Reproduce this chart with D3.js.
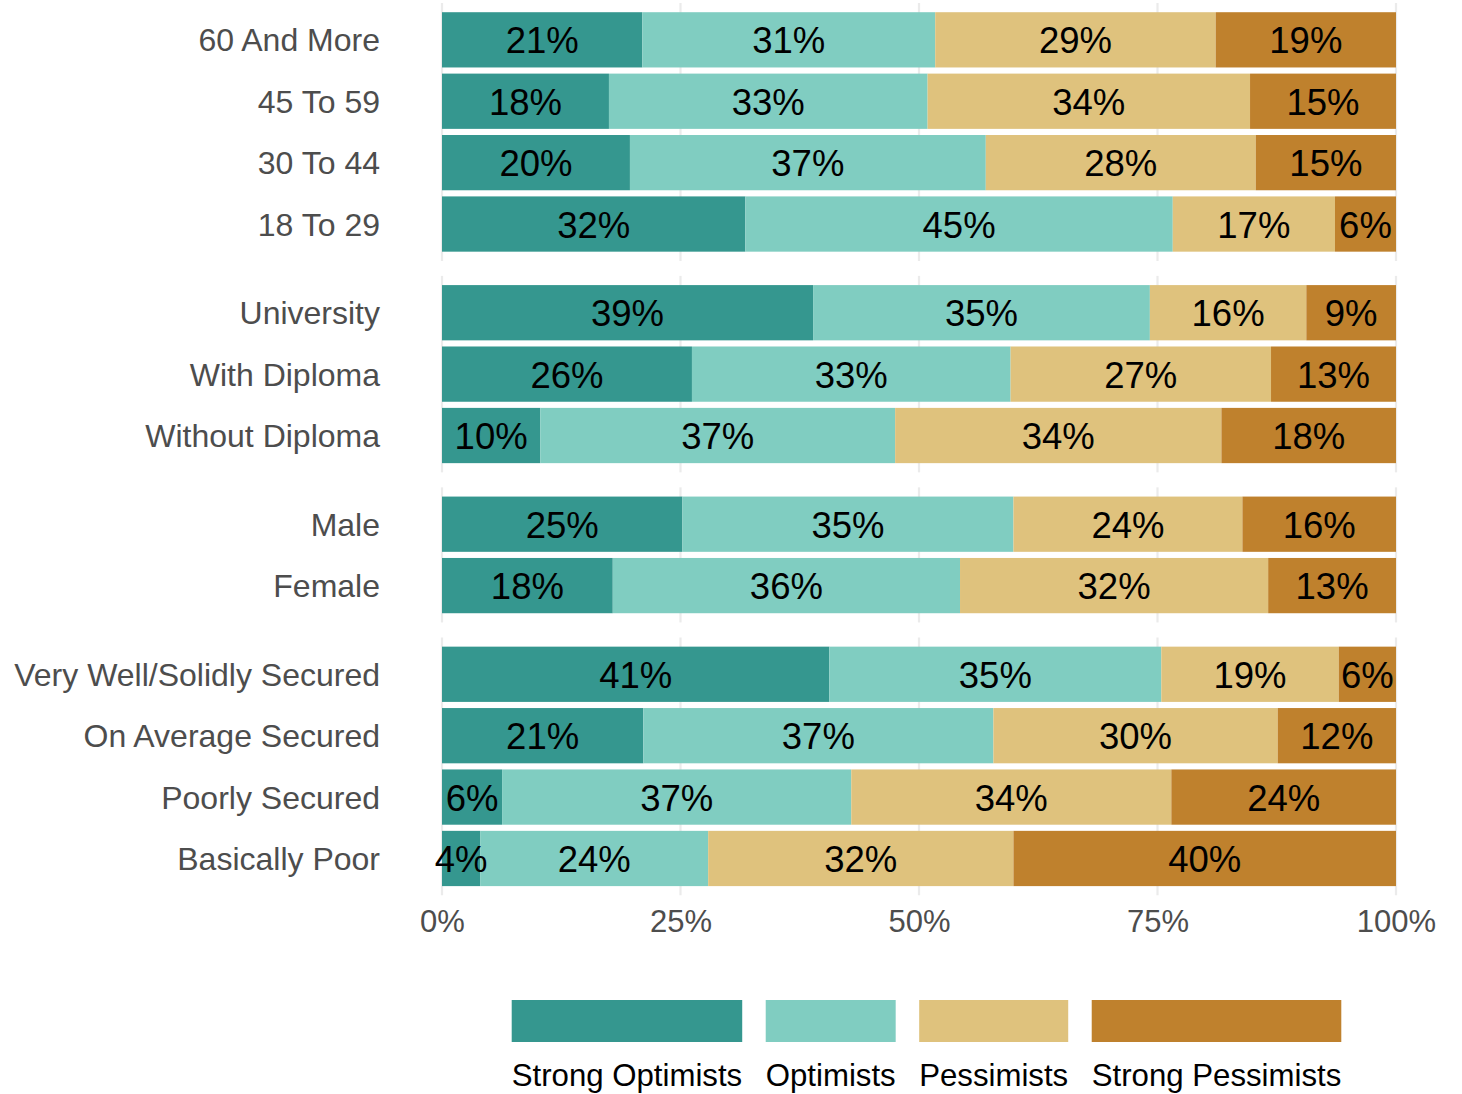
<!DOCTYPE html>
<html><head><meta charset="utf-8">
<script src="https://cdn.jsdelivr.net/npm/d3@7"></script>
<style>
body{margin:0;background:#fff}
svg{display:block}
text{font-family:"Liberation Sans",Arial,Helvetica,sans-serif}
</style>
</head><body><svg id="c" width="1462" height="1094"></svg>
<script>
// ---- data ----
const ageGroups = ["60 And More", "45 To 59", "30 To 44", "18 To 29"];
const education = ["University", "With Diploma", "Without Diploma"];
const gender = ["Male", "Female"];
const income = ["Very Well/Solidly Secured", "On Average Secured", "Poorly Secured", "Basically Poor"];

const seriesNames = ["Strong Optimists", "Optimists", "Pessimists", "Strong Pessimists"];
const strongOptimists  = [21.0, 17.5, 19.7, 31.8, 38.9, 26.2, 10.3, 25.2, 17.9, 40.6, 21.1, 6.3, 4.0];
const optimists        = [30.7, 33.4, 37.3, 44.8, 35.3, 33.4, 37.2, 34.7, 36.4, 34.8, 36.7, 36.6, 23.9];
const pessimists       = [29.4, 33.8, 28.3, 17.0, 16.4, 27.3, 34.2, 24.0, 32.3, 18.6, 29.8, 33.55, 32.0];
const strongPessimists = [18.9, 15.3, 14.7, 6.4, 9.4, 13.1, 18.3, 16.1, 13.4, 6.0, 12.4, 23.55, 40.1];
const tickValues = [0, 25, 50, 75, 100];
const tickLabels = ["0%", "25%", "50%", "75%", "100%"];
const colors = ["#35978f", "#80cdc1", "#dfc27d", "#bf812d"];

// ---- build ----
(function () {
const panels = [ageGroups, education, gender, income];
const categories = panels.flat();
const seriesValues = [strongOptimists, optimists, pessimists, strongPessimists];
const table = categories.map((c, i) => {
  const row = {category: c};
  seriesNames.forEach((s, k) => row[s] = seriesValues[k][i]);
  return row;
});
const stacked = d3.stack().keys(seriesNames)(table);

const svg = d3.select("#c");
svg.append("rect").attr("width", 1462).attr("height", 1094).attr("fill", "#fff");

const x = d3.scaleLinear().domain([0, 100]).range([442, 1396]);
const color = d3.scaleOrdinal().domain(seriesNames).range(colors);

const step = 61.4, gap = 15;
let panelTop = 3;
const panelInfo = [];
panels.forEach(cats => {
  const h = step * (cats.length + 0.2);
  const y = d3.scaleBand().domain(cats).range([panelTop, panelTop + h]).paddingInner(0.1).paddingOuter(0.15);
  panelInfo.push({y, top: panelTop, bottom: panelTop + h, cats});
  panelTop += h + gap;
});
const yOf = c => panelInfo.find(p => p.cats.includes(c)).y;

// gridlines
panelInfo.forEach(p => {
  svg.append("g").selectAll("line").data(tickValues).join("line")
    .attr("x1", d => x(d)).attr("x2", d => x(d))
    .attr("y1", p.top).attr("y2", p.bottom)
    .attr("stroke", "#ebebeb").attr("stroke-width", 2.2);
});

// bars
const barG = svg.append("g");
stacked.forEach(layer => {
  barG.append("g").attr("fill", color(layer.key))
    .selectAll("rect").data(layer).join("rect")
    .attr("x", d => x(d[0]))
    .attr("width", d => x(d[1]) - x(d[0]))
    .attr("y", d => yOf(d.data.category)(d.data.category))
    .attr("height", d => yOf(d.data.category).bandwidth());
});

// bar labels
const labG = svg.append("g");
stacked.forEach(layer => {
  labG.append("g").selectAll("text").data(layer).join("text")
    .attr("x", d => x((d[0] + d[1]) / 2))
    .attr("y", d => { const y = yOf(d.data.category); return y(d.data.category) + y.bandwidth() / 2; })
    .attr("dy", "0.37em")
    .attr("text-anchor", "middle")
    .attr("font-size", 36.5)
    .attr("fill", "#000")
    .text(d => Math.round(d[1] - d[0]) + "%");
});

// y axes
panelInfo.forEach(p => {
  const g = svg.append("g").attr("transform", `translate(${x(0)},0)`)
    .call(d3.axisLeft(p.y).tickSize(0).tickPadding(62));
  g.select(".domain").remove();
  g.attr("font-family", null).attr("font-size", null);
  g.selectAll("text").attr("font-size", 32).attr("fill", "#4d4d4d").attr("dy", "0.36em");
});

// x axis
const last = panelInfo[panelInfo.length - 1];
const xg = svg.append("g").attr("transform", `translate(0,${last.bottom})`)
  .call(d3.axisBottom(x).tickValues(tickValues).tickSize(0).tickPadding(14.5)
    .tickFormat((d, i) => tickLabels[i]));
xg.select(".domain").remove();
xg.attr("font-family", null).attr("font-size", null);
xg.selectAll("text").attr("font-size", 31).attr("fill", "#4d4d4d");

// legend
const leg = svg.append("g");
let lx = 511.7;
seriesNames.forEach(name => {
  const t = leg.append("text").attr("x", lx).attr("y", 1086)
    .attr("font-size", 31.2).attr("fill", "#000").text(name);
  const w = t.node().getComputedTextLength();
  leg.append("rect").attr("x", lx).attr("y", 1000).attr("width", w).attr("height", 42)
    .attr("fill", color(name));
  lx += w + 23.5;
});
})();
</script>
</body></html>
